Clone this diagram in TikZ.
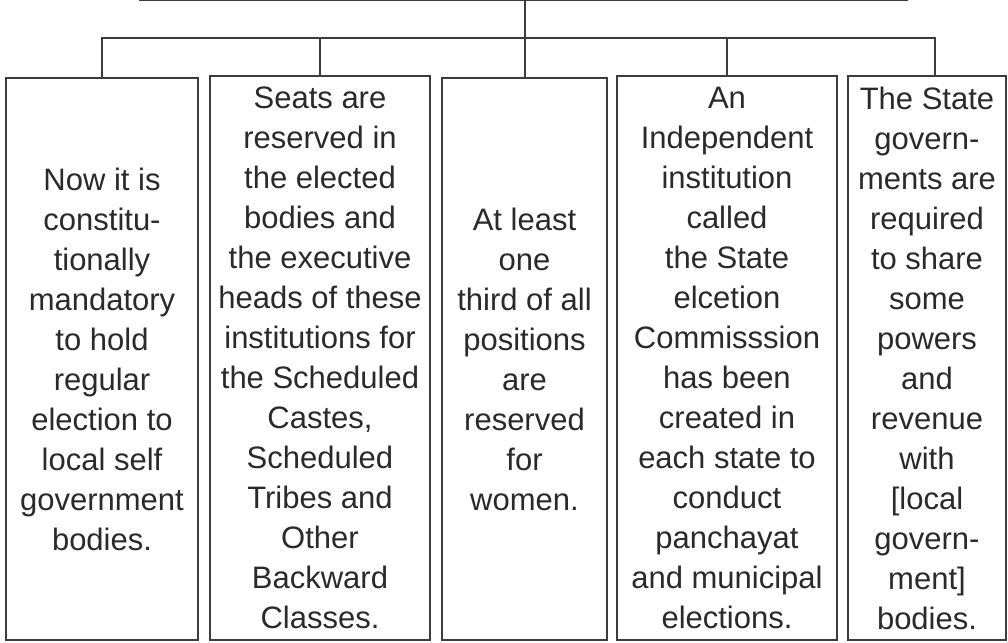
\documentclass[tikz,border=0pt]{standalone}
\usepackage{fontspec}
\setmainfont{Liberation Sans}
\usepackage{xcolor}
\usetikzlibrary{positioning, calc}

\definecolor{linegray}{HTML}{3C3C3C}
\definecolor{textgray}{HTML}{2A2A2A}

\begin{document}
\begin{tikzpicture}[
    x=0.5pt, y=-0.5pt,
    item/.style={
        rectangle, draw=linegray, line width=1pt, fill=white,
        minimum height=281pt, inner sep=0pt, anchor=south,
        align=center, text=textgray, text depth=-5pt, % text sits a bit low
        font=\fontsize{15.5}{20}\selectfont
    },
    link/.style={draw=linegray, line width=1pt}
]
\clip (0,0) rectangle (1008,643);

% 1. Heading box (cut off by the top edge)
\node[rectangle, draw=linegray, line width=1pt, minimum width=383.5pt,
      minimum height=40pt, anchor=south] (head) at (523.5,1) {};

% 2. The five features, all resting on the bottom edge
\node[item, minimum width=96pt] (first) at (102,641) {
    Now it is\\ constitu-\\ tionally\\ mandatory\\ to hold\\ regular\\
    election to\\ local self\\ government\\ bodies.
};
\node[item, minimum width=110pt, minimum height=282pt] (second) at (320,641) {
    Seats are\\ reserved in\\ the elected\\ bodies and\\ the executive\\
    heads of these\\ institutions for\\ the Scheduled\\ Castes,\\ Scheduled\\
    Tribes and\\ Other\\ Backward\\ Classes.
};
\node[item, minimum width=82.5pt] (third) at (524.5,641) {
    At least\\ one\\ third of all\\ positions\\ are\\ reserved\\ for\\ women.
};
\node[item, minimum width=110pt, minimum height=282pt] (fourth) at (727,641) {
    An\\ Independent\\ institution\\ called\\ the State\\ elcetion\\
    Commisssion\\ has been\\ created in\\ each state to\\ conduct\\
    panchayat\\ and municipal\\ elections.
};
\node[item, minimum width=79pt, minimum height=282pt] (fifth) at (927,641) {
    The State\\ govern-\\ ments are\\ required\\ to share\\ some\\ powers\\
    and\\ revenue\\ with\\ {[}local\\ govern-\\ ment]\\ bodies.
};

% 3. Tree connectors
\coordinate (bar) at (523,38);
\draw[link] (head.south -| third.north) -- (third.north);
\draw[link] (first.north) |- (bar) -| ([xshift=4pt]fifth.north);
\draw[link] (second.north) -- (second.north |- bar);
\draw[link] (fourth.north) -- (fourth.north |- bar);

\end{tikzpicture}
\end{document}
